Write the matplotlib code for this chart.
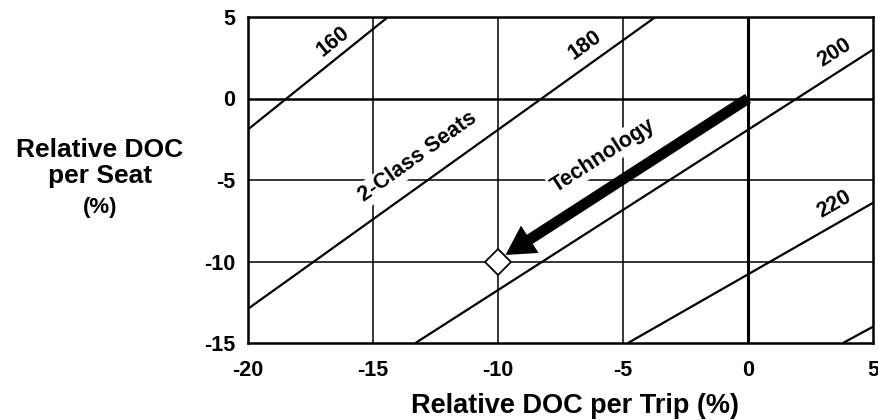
import matplotlib
matplotlib.use("Agg")
import matplotlib.pyplot as plt
from matplotlib.patches import FancyArrowPatch
import numpy as np

# ---- data ----
seat_labels = ["160", "180", "200", "220", "240"]
line_x0 = [-20.0, -20.0, -13.3, -4.8, 3.8]
line_y0 = [-1.9, -12.9, -15.0, -15.0, -15.0]
line_x1 = [-14.4, -3.7, 5.0, 5.0, 5.0]
line_y1 = [5.0, 5.0, 3.0, -6.4, -14.0]

x_ticks = [-20, -15, -10, -5, 0, 5]
y_ticks = [-15, -10, -5, 0, 5]

tech_start = (0.0, 0.0)
tech_end = (-9.7, -9.6)
design_point = (-10.0, -10.0)

# ---- figure ----
plt.rcParams["font.family"] = ["Liberation Sans", "DejaVu Sans"]
fig = plt.figure(figsize=(8.79, 4.20), dpi=100)
ax = fig.add_axes([248 / 879, 1 - 343 / 420, 625 / 879, 326 / 420])
ax.set_xlim(-20, 5)
ax.set_ylim(-15, 5)

# grid
for gx in [-15, -10, -5]:
    ax.axvline(gx, color="black", lw=1.1, zorder=1)
for gy in [-10, -5]:
    ax.axhline(gy, color="black", lw=1.1, zorder=1)
ax.axvline(0, color="black", lw=2.2, zorder=1)
ax.axhline(0, color="black", lw=1.8, zorder=1)

for s in ax.spines.values():
    s.set_linewidth(1.8)

# seat lines
for i in range(len(seat_labels)):
    ax.plot([line_x0[i], line_x1[i]], [line_y0[i], line_y1[i]],
            color="black", lw=1.6, zorder=5, solid_capstyle="butt")


def angle_of(p0, p1):
    a = ax.transData.transform(p0)
    b = ax.transData.transform(p1)
    return np.degrees(np.arctan2(b[1] - a[1], b[0] - a[0]))


label_pos = {"160": (-16.6, 3.5), "180": (-6.5, 3.3), "200": (3.44, 2.8),
             "220": (3.44, -6.5)}
txt_kw = dict(ha="center", va="center", rotation_mode="anchor",
              fontsize=15.5, fontweight="bold", color="black", zorder=4)
for i, lab in enumerate(seat_labels):
    if lab in label_pos:
        ang = angle_of((line_x0[i], line_y0[i]), (line_x1[i], line_y1[i]))
        ax.text(*label_pos[lab], lab, rotation=ang, **txt_kw)

# 2-Class Seats label along the 180 line
ang180 = angle_of((line_x0[1], line_y0[1]), (line_x1[1], line_y1[1]))
ax.text(-13.2, -3.6, "2-Class Seats", rotation=ang180,
        bbox=dict(facecolor="white", edgecolor="none", pad=1.5), **txt_kw)

# Technology arrow
arrow = FancyArrowPatch(tech_start, tech_end,
                        arrowstyle="simple,head_length=1.6,head_width=1.8,tail_width=0.6",
                        mutation_scale=13, color="black", lw=0, zorder=6,
                        shrinkA=0, shrinkB=0)
ax.add_patch(arrow)
angt = angle_of(tech_start, tech_end) + 180
ax.text(-5.8, -3.5, "Technology", rotation=angt,
        bbox=dict(facecolor="white", edgecolor="none", pad=1.5), **txt_kw)

ax.plot([design_point[0]], [design_point[1]], marker="D", ms=13,
        mfc="white", mec="black", mew=1.3, zorder=7)

# ticks
ax.set_xticks(x_ticks)
ax.set_yticks(y_ticks)
ax.set_xticklabels([str(v) for v in x_ticks], fontsize=15.5, fontweight="bold")
ax.set_yticklabels([str(v) for v in y_ticks], fontsize=15.5, fontweight="bold")
ax.tick_params(axis="x", length=0, pad=12)
ax.tick_params(axis="y", length=0, pad=9)

# axis labels
fig.text(575 / 879, 1 - 406 / 420, "Relative DOC per Trip (%)", ha="center",
         va="center", fontsize=19.5, fontweight="bold")
fig.text(100 / 879, 1 - 150 / 420, "Relative DOC", ha="center", va="center",
         fontsize=19, fontweight="bold")
fig.text(100 / 879, 1 - 176 / 420, "per Seat", ha="center", va="center",
         fontsize=19, fontweight="bold")
fig.text(100 / 879, 1 - 208 / 420, "(%)", ha="center", va="center",
         fontsize=16, fontweight="bold")

fig.savefig("out.png", dpi=100)
